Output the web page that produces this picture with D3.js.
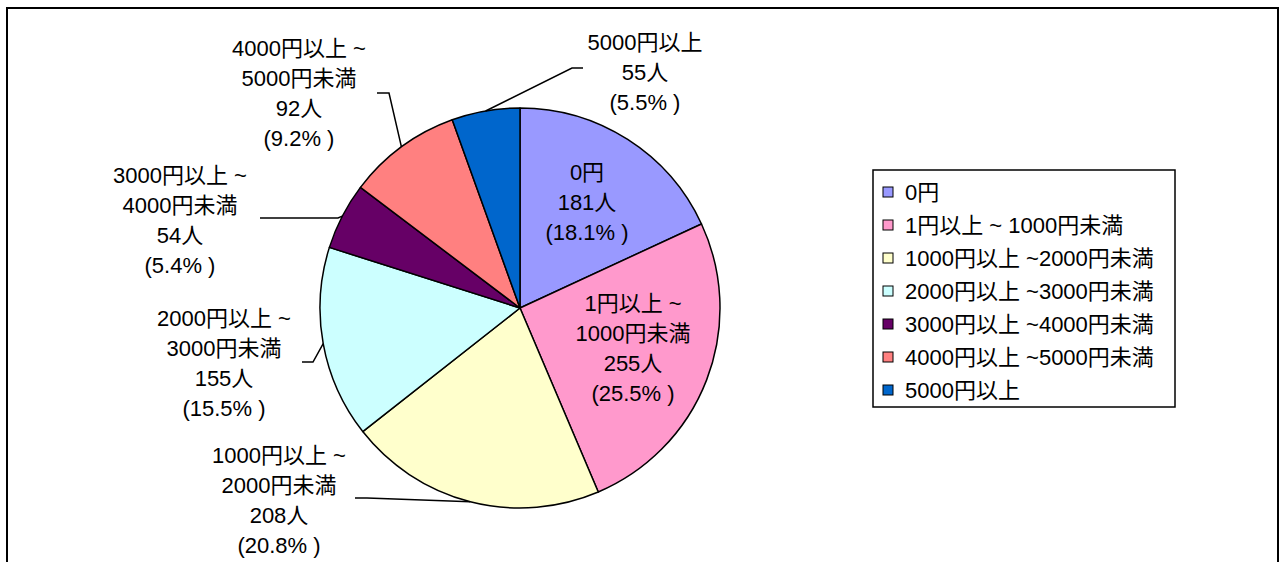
<!DOCTYPE html>
<html>
<head>
<meta charset="utf-8">
<script src="https://cdnjs.cloudflare.com/ajax/libs/d3/7.8.5/d3.min.js"></script>
<style>
  body { margin: 0; background: #fff; }
  text { font-family: "Liberation Sans Narrow", "Liberation Sans", "Noto Sans CJK JP", sans-serif; fill: #000; }
</style>
</head>
<body>
<script>
// data
var categories = ['0円', '1円以上 ~ 1000円未満', '1000円以上 ~2000円未満', '2000円以上 ~3000円未満',
                  '3000円以上 ~4000円未満', '4000円以上 ~5000円未満', '5000円以上']
var counts = [181, 255, 208, 155, 54, 92, 55]
var percents = ['18.1', '25.5', '20.8', '15.5', '5.4', '9.2', '5.5']
var label_lines = [
  ['0円'],
  ['1円以上 ~', '1000円未満'],
  ['1000円以上 ~', '2000円未満'],
  ['2000円以上 ~', '3000円未満'],
  ['3000円以上 ~', '4000円未満'],
  ['4000円以上 ~', '5000円未満'],
  ['5000円以上']
]
var colors = ['#9999ff', '#ff99cc', '#ffffcc', '#ccffff', '#660066', '#ff8080', '#0066cc']

// layout
var W = 1284, H = 562
var cx = 520, cy = 308, R = 200
var LINE_H = 30
// label centre x and first line centre y, plus leader elbow/end (null = inside)
var label_pos = [
  {x: 587, y: 172, leader: null},
  {x: 633, y: 303, leader: null},
  {x: 279, y: 455, leader: [[367, 498], [355, 498]]},
  {x: 224, y: 318, leader: [[313, 362], [302, 362]]},
  {x: 180, y: 175, leader: [[338, 218], [260, 218]]},
  {x: 299, y: 48, leader: [[389, 93], [377, 93]]},
  {x: 645, y: 42, leader: [[572, 68], [583, 68]]}
]

var svg = d3.select('body').append('svg')
  .attr('width', W).attr('height', H)

// outer frame
svg.append('rect')
  .attr('x', 7).attr('y', 8).attr('width', 1271).attr('height', 600)
  .attr('fill', 'none').attr('stroke', '#000').attr('stroke-width', 2)

var pie = d3.pie().sort(null).value(function(d){ return d })
var arcs = pie(counts)
var arc = d3.arc().innerRadius(0).outerRadius(R)

var g = svg.append('g').attr('transform', 'translate(' + cx + ',' + cy + ')')

g.selectAll('path.slice')
  .data(arcs)
  .enter()
  .append('path')
  .attr('class', 'slice')
  .attr('d', arc)
  .attr('fill', function(d, i){ return colors[i] })
  .attr('stroke', '#000')
  .attr('stroke-width', 1.5)
  .attr('stroke-linejoin', 'round')

// leader lines
var line = d3.line()
arcs.forEach(function(d, i){
  var p = label_pos[i]
  if(!p.leader) return
  var mid = (d.startAngle + d.endAngle) / 2
  var start = [cx + R * Math.sin(mid), cy - R * Math.cos(mid)]
  svg.append('path')
    .attr('d', line([start].concat(p.leader)))
    .attr('fill', 'none')
    .attr('stroke', '#000')
    .attr('stroke-width', 1.5)
})

// data labels
arcs.forEach(function(d, i){
  var p = label_pos[i]
  var lines = label_lines[i].concat([counts[i] + '人', '(' + percents[i] + '% )'])
  var t = svg.append('text')
    .attr('text-anchor', 'middle')
    .attr('font-size', '22px')
  lines.forEach(function(s, k){
    t.append('tspan')
      .attr('x', p.x)
      .attr('y', p.y + k * LINE_H + 8)
      .text(s)
  })
})

// legend
var leg = svg.append('g').attr('transform', 'translate(873,170)')
leg.append('rect')
  .attr('width', 302).attr('height', 237)
  .attr('fill', '#fff').attr('stroke', '#000').attr('stroke-width', 1.5)

var items = leg.selectAll('g.item')
  .data(categories)
  .enter()
  .append('g')
  .attr('class', 'item')
  .attr('transform', function(d, i){ return 'translate(0,' + (22 + i * 33) + ')' })

items.append('rect')
  .attr('x', 10).attr('y', -5).attr('width', 10).attr('height', 10)
  .attr('fill', function(d, i){ return colors[i] })
  .attr('stroke', '#000').attr('stroke-width', 1)

items.append('text')
  .attr('x', 32).attr('y', 8)
  .attr('font-size', '22px')
  .text(function(d){ return d })
</script>
</body>
</html>
